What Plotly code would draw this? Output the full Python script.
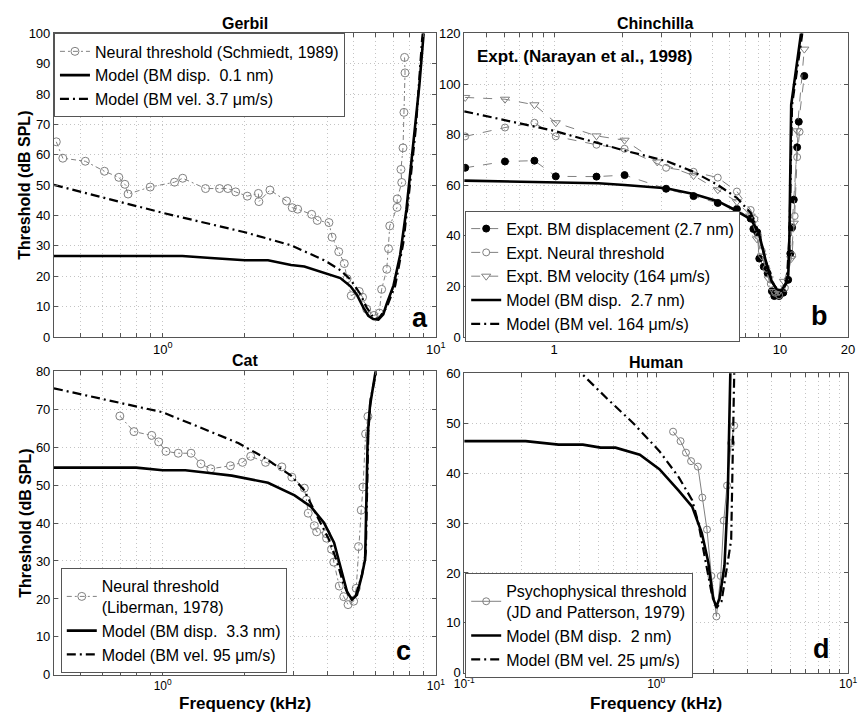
import plotly.graph_objects as go
import math

# ---------------- DATA ----------------
# Gerbil (panel a)
gerbil_neural_f = [0.408, 0.431, 0.521, 0.612, 0.691, 0.727, 0.747, 0.900, 1.105, 1.184, 1.435, 1.615, 1.732, 1.85, 2.04, 2.24, 2.25, 2.47, 2.84, 2.98, 3.12, 3.51, 3.68, 4.06, 4.17, 4.41, 4.62, 4.73, 4.90, 5.24, 5.39, 5.58, 5.93, 6.21, 6.33, 6.61, 6.71, 6.78, 7.21, 7.22, 7.50, 7.45, 7.58, 7.64, 7.71, 7.68]
gerbil_neural_db = [64.3, 58.9, 57.9, 54.6, 52.6, 50.3, 47.1, 49.4, 51.0, 52.3, 48.9, 48.9, 48.9, 47.8, 46.4, 47.3, 44.6, 48.4, 44.8, 42.6, 42.1, 40.4, 38.4, 37.7, 32.9, 28.1, 24.2, 19.2, 13.6, 15.0, 13.1, 9.2, 7.1, 7.9, 15.7, 22.3, 29.1, 36.6, 42.7, 45.5, 50.9, 55.2, 62.3, 74.0, 87.0, 92.1]
gerbil_disp_f = [0.4, 0.7, 1.0, 1.18, 1.5, 2.0, 2.43, 2.95, 3.30, 3.9, 4.47, 4.87, 5.13, 5.43, 5.66, 5.9, 6.16, 6.42, 6.6, 7.0, 7.4, 7.8, 8.2, 8.7, 9.0, 9.2]
gerbil_disp_db = [26.7, 26.7, 26.7, 26.7, 26.0, 25.3, 25.3, 23.7, 23.2, 21.0, 19.4, 16.7, 14.0, 9.7, 7.0, 5.9, 5.7, 7.5, 10.8, 17.0, 27.0, 42.0, 60.0, 83.0, 99.0, 110.0]
gerbil_vel_f = [0.4, 1.0, 2.0, 2.95, 3.9, 4.47, 4.87, 5.3, 5.58, 5.9, 6.16, 6.6, 7.1, 7.6, 8.0, 8.45, 8.9, 9.2]
gerbil_vel_db = [50.1, 40.9, 34.5, 30.2, 25.3, 22.0, 18.9, 14.0, 9.7, 6.5, 6.0, 9.7, 17.0, 31.0, 48.5, 69.0, 98.0, 110.0]

# Chinchilla (panel b)
chin_disp_f = [0.404, 0.606, 0.818, 1.017, 1.54, 2.05, 3.13, 4.14, 5.30, 6.44, 7.41, 7.62, 7.92, 8.09, 8.47, 8.81, 9.20, 9.43, 9.90, 10.33, 10.86, 11.1, 11.3, 11.5, 11.9, 12.1, 12.8]
chin_disp_db = [66.9, 69.4, 69.7, 63.5, 63.4, 64.0, 58.6, 55.7, 53.0, 50.6, 46.8, 42.7, 41.4, 31.0, 27.8, 25.2, 18.1, 16.2, 16.2, 17.5, 22.6, 33.0, 43.3, 54.3, 75.0, 85.1, 103.2]
chin_neural_f = [0.404, 0.606, 0.818, 1.017, 1.54, 2.05, 3.13, 4.14, 5.30, 6.44, 7.41, 7.7, 8.0, 8.3, 8.7, 9.1, 9.5, 9.9, 10.5, 11.3, 11.6, 11.9, 12.2]
chin_neural_db = [79.3, 82.8, 84.7, 79.3, 76.0, 74.4, 66.9, 65.3, 63.0, 57.5, 50.2, 46.6, 40.0, 34.0, 27.0, 21.0, 17.5, 16.5, 19.4, 32.3, 47.8, 71.1, 81.1]
chin_vel_f = [0.404, 0.606, 0.818, 1.017, 1.54, 2.05, 2.86, 4.14, 5.30, 6.44, 7.41, 7.9, 8.3, 8.9, 9.4, 9.9, 10.4, 11.2, 11.5, 11.9, 12.8]
chin_vel_db = [94.7, 94.0, 91.8, 84.7, 79.5, 77.8, 69.2, 63.8, 58.2, 53.5, 47.8, 38.8, 32.0, 23.0, 18.0, 18.0, 22.0, 31.0, 45.0, 81.5, 113.8]
chin_mdisp_f = [0.4, 1.0, 1.57, 2.05, 3.13, 4.14, 5.30, 6.16, 7.41, 8.04, 8.59, 9.18, 9.68, 10.18, 10.6, 10.87, 11.0, 11.2, 12.4, 12.6]
chin_mdisp_db = [61.8, 61.3, 60.8, 60.1, 58.8, 56.5, 53.7, 50.7, 46.6, 41.4, 31.0, 22.0, 18.8, 18.4, 21.3, 24.6, 40.0, 91.8, 119.0, 125.0]
chin_mvel_f = [0.4, 1.0, 2.05, 3.13, 4.14, 5.30, 6.44, 7.41, 8.04, 8.59, 9.18, 9.68, 10.18, 10.7, 11.0, 11.3, 12.5, 12.7]
chin_mvel_db = [89.2, 81.5, 73.7, 69.6, 65.3, 60.1, 55.0, 49.1, 41.4, 31.0, 22.0, 18.8, 18.4, 21.3, 40.0, 91.8, 119.0, 125.0]

# Cat (panel c)
cat_neural_f = [0.697, 0.785, 0.912, 0.967, 1.028, 1.14, 1.27, 1.38, 1.50, 1.77, 1.96, 2.10, 2.38, 2.73, 2.97, 3.30, 3.36, 3.41, 3.59, 3.66, 3.97, 3.98, 4.15, 4.23, 4.43, 4.60, 4.77, 5.00, 5.11, 5.21, 5.33, 5.41, 5.53, 5.64]
cat_neural_db = [68.2, 64.1, 63.1, 61.4, 58.9, 58.4, 58.4, 55.6, 54.3, 55.1, 56.0, 57.6, 56.0, 54.8, 52.1, 49.2, 46.1, 42.6, 39.3, 37.7, 37.2, 36.0, 33.1, 29.7, 23.4, 20.6, 18.5, 19.4, 22.8, 33.8, 43.4, 49.5, 63.5, 68.1]
cat_disp_f = [0.4, 0.80, 1.0, 1.21, 1.43, 1.79, 2.43, 3.04, 3.49, 3.9, 4.24, 4.47, 4.73, 4.93, 5.14, 5.36, 5.51, 5.63, 5.74, 6.03, 6.2]
cat_disp_db = [54.6, 54.6, 53.9, 53.9, 53.3, 52.5, 50.6, 47.3, 44.3, 40.0, 34.8, 28.8, 21.9, 19.8, 21.1, 26.2, 30.5, 63.2, 71.0, 80.4, 84.0]
cat_vel_f = [0.4, 1.0, 1.89, 2.36, 2.95, 3.30, 3.68, 4.06, 4.35, 4.60, 4.86, 5.07, 5.36, 5.54, 5.66, 5.77, 6.07, 6.25]
cat_vel_db = [75.5, 69.2, 61.1, 57.2, 52.5, 48.6, 41.7, 35.7, 29.7, 23.7, 20.2, 20.6, 26.2, 32.3, 64.1, 72.7, 80.4, 84.0]

# Human (panel d)
hum_psy_f = [1.225, 1.34, 1.43, 1.52, 1.65, 1.74, 1.84, 1.94, 2.06, 2.17, 2.25, 2.34, 2.46, 2.55]
hum_psy_db = [48.3, 46.4, 44.1, 42.4, 41.3, 35.1, 28.7, 19.4, 11.3, 19.4, 30.5, 37.5, 46.0, 49.5]
hum_disp_f = [0.1, 0.209, 0.31, 0.415, 0.514, 0.614, 0.822, 1.04, 1.31, 1.54, 1.73, 1.87, 1.98, 2.06, 2.14, 2.27, 2.36, 2.43, 2.45]
hum_disp_db = [46.4, 46.4, 45.7, 45.7, 45.1, 45.1, 43.7, 40.8, 36.5, 33.3, 28.0, 22.1, 14.9, 13.3, 14.9, 21.5, 35.2, 60.0, 65.0]
hum_vel_f = [0.38, 0.407, 0.556, 0.76, 1.04, 1.31, 1.54, 1.66, 1.80, 1.94, 2.06, 2.19, 2.36, 2.46, 2.55, 2.57]
hum_vel_db = [61.7, 60.0, 54.9, 50.0, 44.4, 39.2, 34.6, 30.0, 22.8, 16.2, 13.0, 14.3, 22.1, 26.7, 59.5, 65.0]

# ---------------- STYLE ----------------
FONT = "Liberation Sans, Arial, Helvetica, sans-serif"
GRAY = "#808080"
W, H = 862, 722
DASHDOT = "9px,4px,2px,4px"
THIN_DASHDOT = "5px,3px,2px,3px"

def px_x(p):
    return p / W

def px_y(p):
    return 1 - p / H

fig = go.Figure()

def data_trace(f, db, name, ax, leg, symbol="circle-open", color=GRAY, mcolor=None, dash="dash", size=8):
    fig.add_trace(go.Scatter(
        x=f, y=db, name=name, mode="lines+markers",
        line=dict(color=color, width=1, dash=dash),
        marker=dict(symbol=symbol, size=size, color=mcolor or color,
                    line=dict(color=mcolor or color, width=1)),
        xaxis="x" + ax, yaxis="y" + ax, legend=leg))

def model_trace(f, db, name, ax, leg, dash):
    fig.add_trace(go.Scatter(
        x=f, y=db, name=name, mode="lines",
        line=dict(color="black", width=2.6 if dash == "solid" else 2.2, dash=dash),
        xaxis="x" + ax, yaxis="y" + ax, legend=leg))

# panel a
data_trace(gerbil_neural_f, gerbil_neural_db, "Neural threshold (Schmiedt, 1989)", "", "legend", dash=THIN_DASHDOT)
model_trace(gerbil_disp_f, gerbil_disp_db, "Model (BM disp.  0.1 nm)", "", "legend", "solid")
model_trace(gerbil_vel_f, gerbil_vel_db, "Model (BM vel. 3.7 μm/s)", "", "legend", DASHDOT)
# panel b
data_trace(chin_disp_f, chin_disp_db, "Expt. BM displacement (2.7 nm)", "2", "legend2",
           symbol="circle", color=GRAY, mcolor="black", size=7)
data_trace(chin_neural_f, chin_neural_db, "Expt. Neural threshold", "2", "legend2", size=7)
data_trace(chin_vel_f, chin_vel_db, "Expt. BM velocity (164 μm/s)", "2", "legend2",
           symbol="triangle-down-open", size=8)
model_trace(chin_mdisp_f, chin_mdisp_db, "Model (BM disp.  2.7 nm)", "2", "legend2", "solid")
model_trace(chin_mvel_f, chin_mvel_db, "Model (BM vel. 164 μm/s)", "2", "legend2", DASHDOT)
# panel c
data_trace(cat_neural_f, cat_neural_db, "Neural threshold<br>(Liberman, 1978)", "3", "legend3", dash=THIN_DASHDOT)
model_trace(cat_disp_f, cat_disp_db, "Model (BM disp.  3.3 nm)", "3", "legend3", "solid")
model_trace(cat_vel_f, cat_vel_db, "Model (BM vel. 95 μm/s)", "3", "legend3", DASHDOT)
# panel d
data_trace(hum_psy_f, hum_psy_db, "Psychophysical threshold<br>(JD and Patterson, 1979)", "4", "legend4", dash="solid", size=7)
model_trace(hum_disp_f, hum_disp_db, "Model (BM disp.  2 nm)", "4", "legend4", "solid")
model_trace(hum_vel_f, hum_vel_db, "Model (BM vel. 25 μm/s)", "4", "legend4", DASHDOT)

def minor_vals(lo, hi):
    vals = []
    d = 10 ** math.floor(math.log10(lo) + 1e-9)
    while d <= hi:
        for m in range(1, 10):
            v = m * d
            if lo - 1e-9 <= v <= hi + 1e-9:
                vals.append(round(v, 6))
        d *= 10
    return vals

GRID = "#c4c4c4"

def xaxis(lo, hi, labels, dom, anchor, size=13):
    vals = minor_vals(lo, hi)
    text = [labels.get(v, "") for v in vals]
    return dict(type="log", range=[math.log10(lo), math.log10(hi)], domain=dom, anchor=anchor,
                tickvals=vals, ticktext=text, ticks="inside", ticklen=4, tickcolor="#555",
                showgrid=True, gridcolor=GRID, griddash="1px,3px", gridwidth=1,
                showline=True, linecolor="#555", linewidth=1, mirror="ticks",
                tickfont=dict(family=FONT, size=size, color="black"), zeroline=False)

def yaxis(hi, step, dom, anchor):
    return dict(range=[0, hi], domain=dom, anchor=anchor, dtick=step, tick0=0,
                ticks="inside", ticklen=4, tickcolor="#555",
                showgrid=True, gridcolor=GRID, griddash="1px,3px", gridwidth=1,
                showline=True, linecolor="#555", linewidth=1, mirror="ticks",
                tickfont=dict(family=FONT, size=13, color="black"), zeroline=False)

xa_dom = [px_x(45), px_x(436)]
xb_dom = [px_x(465), px_x(858)]
ya_dom = [px_y(337), px_y(27)]
yc_dom = [px_y(682), px_y(372)]
yd_dom = [px_y(680), px_y(374)]

dec = {1: "10<sup>0</sup>", 10: "10<sup>1</sup>", 0.1: "10<sup>-1</sup>"}
fig.update_layout(
    xaxis=xaxis(0.4, 10, dec, xa_dom, "y"),
    yaxis=yaxis(100, 10, ya_dom, "x"),
    xaxis2=xaxis(0.4, 20, {1: "1", 10: "10", 20: "20"}, xb_dom, "y2"),
    yaxis2=yaxis(120, 20, ya_dom, "x2"),
    xaxis3=xaxis(0.4, 10, dec, xa_dom, "y3", size=12),
    yaxis3=yaxis(80, 10, yc_dom, "x3"),
    xaxis4=xaxis(0.1, 10, dec, xb_dom, "y4", size=12),
    yaxis4=yaxis(60, 10, yd_dom, "x4"),
)

def legend(x, y):
    return dict(x=px_x(x), y=px_y(y), xanchor="left", yanchor="top", xref="paper", yref="paper",
                bgcolor="white", bordercolor="#555", borderwidth=1,
                font=dict(family=FONT, size=16, color="black"), tracegroupgap=0,
                itemwidth=30)

fig.update_layout(
    width=W, height=H, margin=dict(l=0, r=0, t=0, b=0),
    plot_bgcolor="white", paper_bgcolor="white",
    font=dict(family=FONT, color="black"),
    legend=legend(45, 27),
    legend2=legend(466, 208),
    legend3=legend(52, 573),
    legend4=legend(466, 578),
)

ann = []
def text(x, y, t, size, angle=0, anchor="center"):
    ann.append(dict(x=px_x(x), y=px_y(y), xref="paper", yref="paper", text=t, showarrow=False,
                    font=dict(family=FONT, size=size, color="black"), textangle=angle,
                    xanchor=anchor, yanchor="middle"))

text(240.5, 17, "<b>Gerbil</b>", 16)
text(661, 17, "<b>Chinchilla</b>", 16)
text(240.5, 361, "<b>Cat</b>", 16)
text(661, 363, "<b>Human</b>", 16)
text(15, 182, "<b>Threshold (dB SPL)</b>", 16, angle=-90)
text(15, 527, "<b>Threshold (dB SPL)</b>", 16, angle=-90)
text(240.5, 711, "<b>Frequency (kHz)</b>", 17)
text(661, 711, "<b>Frequency (kHz)</b>", 17)
text(476, 51, "<b>Expt. (Narayan et al., 1998)</b>", 17, anchor="left")
text(420, 318, "<b>a</b>", 27)
text(829, 316, "<b>b</b>", 27)
text(403, 658, "<b>c</b>", 27)
text(831, 656, "<b>d</b>", 27)
fig.update_layout(annotations=ann)

fig.write_html("out.html")
